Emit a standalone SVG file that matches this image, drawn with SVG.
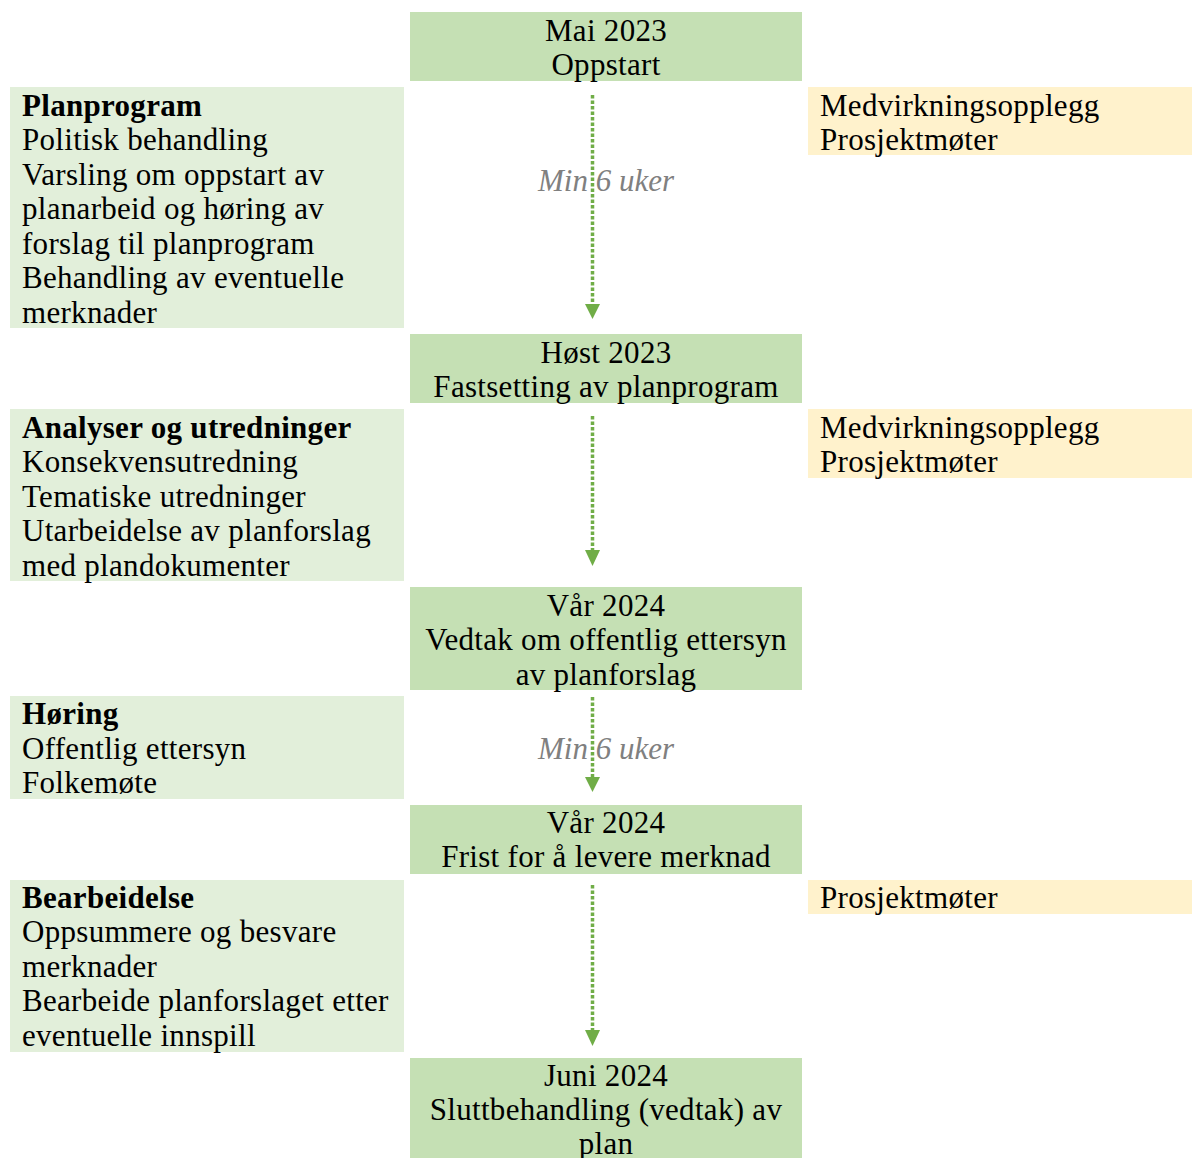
<svg xmlns="http://www.w3.org/2000/svg" width="1192" height="1158" viewBox="0 0 1192 1158">
<defs>
<style>
text{font-family:"Liberation Serif","Times New Roman",serif;font-size:31px;fill:#000;letter-spacing:0.3px}
.c{text-anchor:middle}
.b{font-weight:bold}
.m{font-style:italic;fill:#808080;text-anchor:middle;letter-spacing:0}
.ms{fill:#C5E0B4}
.ph{fill:#E2EFDA}
.pa{fill:#FFF2CC}
.arr{stroke:#70AD47;stroke-width:3.5;stroke-dasharray:3.5 2;fill:none}
.head{fill:#70AD47}
</style>
</defs>
<rect width="1192" height="1158" fill="#fff"/>

<g id="m1"><rect class="ms" x="410" y="12" width="392" height="69"/><text class="c" x="606" y="40.5">Mai 2023</text><text class="c" x="606" y="75">Oppstart</text></g>
<g id="p1"><rect class="ph" x="10" y="87" width="394" height="241"/>
<text class="b" x="22" y="115.5">Planprogram</text>
<text x="22" y="150">Politisk behandling</text>
<text x="22" y="184.5">Varsling om oppstart av</text>
<text x="22" y="219">planarbeid og høring av</text>
<text x="22" y="253.5">forslag til planprogram</text>
<text x="22" y="288">Behandling av eventuelle</text>
<text x="22" y="322.5">merknader</text></g>
<g id="r1"><rect class="pa" x="808" y="87" width="384" height="68"/><text x="820" y="115.5">Medvirkningsopplegg</text><text x="820" y="150">Prosjektmøter</text></g>
<g id="l1"><text class="m" x="606" y="190.5">Min 6 uker</text></g>

<g id="m2"><rect class="ms" x="410" y="334" width="392" height="69"/><text class="c" x="606" y="362.5">Høst 2023</text><text class="c" x="606" y="397">Fastsetting av planprogram</text></g>
<g id="p2"><rect class="ph" x="10" y="409" width="394" height="172"/>
<text class="b" x="22" y="437.5">Analyser og utredninger</text>
<text x="22" y="472">Konsekvensutredning</text>
<text x="22" y="506.5">Tematiske utredninger</text>
<text x="22" y="541">Utarbeidelse av planforslag</text>
<text x="22" y="575.5">med plandokumenter</text></g>
<g id="r2"><rect class="pa" x="808" y="409" width="384" height="69"/><text x="820" y="437.5">Medvirkningsopplegg</text><text x="820" y="472">Prosjektmøter</text></g>

<g id="m3"><rect class="ms" x="410" y="587" width="392" height="103"/><text class="c" x="606" y="615.5">Vår 2024</text><text class="c" x="606" y="650">Vedtak om offentlig ettersyn</text><text class="c" x="606" y="684.5">av planforslag</text></g>
<g id="p3"><rect class="ph" x="10" y="696" width="394" height="103"/>
<text class="b" x="22" y="724">Høring</text>
<text x="22" y="758.5">Offentlig ettersyn</text>
<text x="22" y="793">Folkemøte</text></g>
<g id="l3"><text class="m" x="606" y="758.5">Min 6 uker</text></g>

<g id="m4"><rect class="ms" x="410" y="805" width="392" height="69"/><text class="c" x="606" y="832.5">Vår 2024</text><text class="c" x="606" y="867">Frist for å levere merknad</text></g>
<g id="p4"><rect class="ph" x="10" y="880" width="394" height="172"/>
<text class="b" x="22" y="907.5">Bearbeidelse</text>
<text x="22" y="942">Oppsummere og besvare</text>
<text x="22" y="976.5">merknader</text>
<text x="22" y="1011">Bearbeide planforslaget etter</text>
<text x="22" y="1045.5">eventuelle innspill</text></g>
<g id="r4"><rect class="pa" x="808" y="880" width="384" height="34"/><text x="820" y="907.5">Prosjektmøter</text></g>

<g id="m5"><rect class="ms" x="410" y="1058" width="392" height="100"/><text class="c" x="606" y="1085.5">Juni 2024</text><text class="c" x="606" y="1120">Sluttbehandling (vedtak) av</text><text class="c" x="606" y="1154">plan</text></g>

<g id="connectors">
<line class="arr" x1="592.5" y1="95" x2="592.5" y2="305"/><polygon class="head" points="585,304 600,304 592.5,319"/>
<line class="arr" x1="592.5" y1="416" x2="592.5" y2="551"/><polygon class="head" points="585,550 600,550 592.5,566"/>
<line class="arr" x1="592.5" y1="697" x2="592.5" y2="778"/><polygon class="head" points="585,777 600,777 592.5,792"/>
<line class="arr" x1="592.5" y1="885" x2="592.5" y2="1031"/><polygon class="head" points="585,1030 600,1030 592.5,1046"/>
</g>
</svg>
